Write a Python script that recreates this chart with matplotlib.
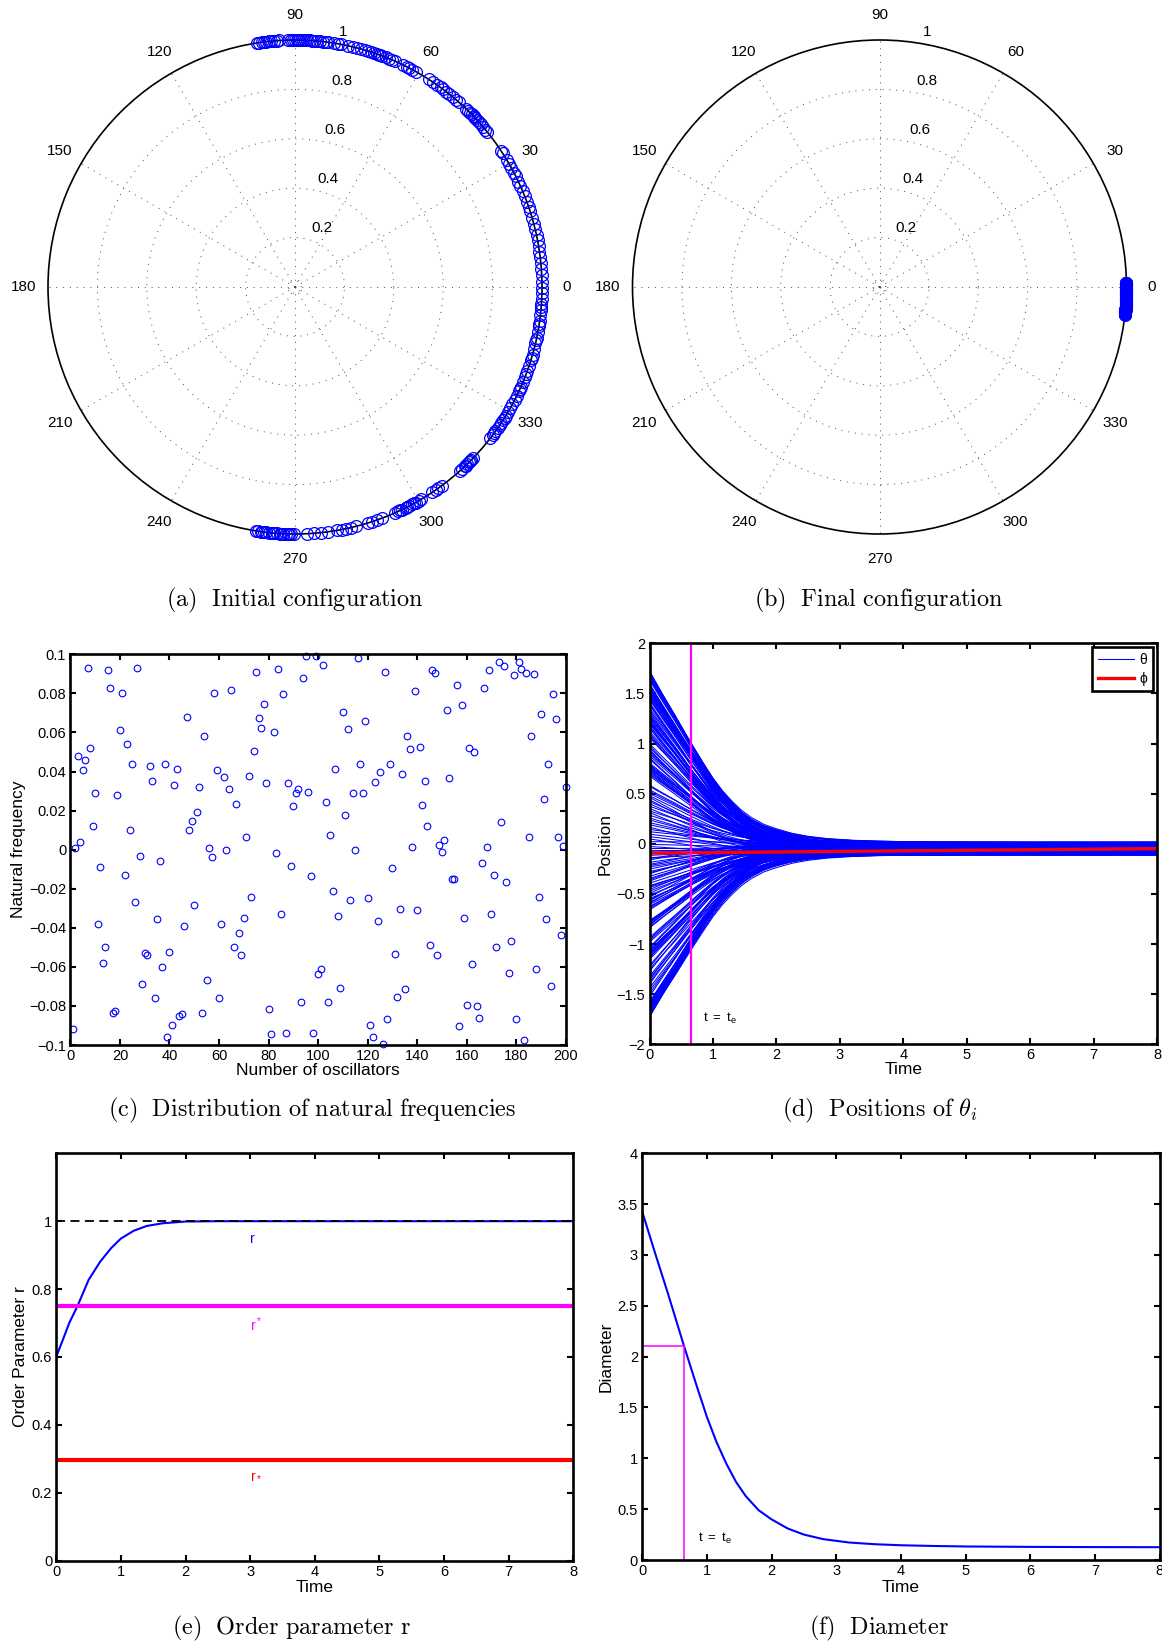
import numpy as np
import matplotlib
matplotlib.use('Agg')
import matplotlib.pyplot as plt
from matplotlib.transforms import offset_copy

plt.rcParams['font.family'] = ['Liberation Sans', 'DejaVu Sans']
plt.rcParams['mathtext.fontset'] = 'cm'

# initial phases (degrees)
theta0_deg = [
    98.8, 98.3, 97.7, 97.2, 96.8, 96.1, 95.5, 94.9, 94.2, 93.6,
    91.6, 91.0, 90.5, 90.1, 89.6, 89.1, 88.7, 88.2, 87.7, 87.2,
    86.6, 86.0, 85.5, 84.9, 84.3, 83.4, 82.9, 82.4, 80.8, 79.9,
    79.3, 77.6, 76.4, 75.5, 74.4, 73.6, 72.9, 72.1, 71.4, 70.6,
    69.8, 69.3, 68.5, 67.6, 66.8, 66.0, 64.2, 63.1, 62.4, 61.6,
    60.7, 57.2, 56.1, 55.0, 53.9, 53.2, 52.3, 51.4, 50.3, 49.2,
    48.4, 46.2, 45.5, 44.9, 44.3, 43.7, 43.1, 42.5, 41.9, 41.2,
    40.4, 39.6, 38.8, 33.5, 32.8, 30.9, 30.0, 28.8, 27.5, 26.6,
    25.2, 24.1, 22.9, 21.5, 20.2, 18.8, 17.9, 16.3, 14.8, 13.6,
    12.1, 10.9, 9.5, 8.2, 6.9, 5.5, 4.1, 2.8, 1.2, 89.4,
    70.2, 43.4, -0.3, -1.5, -2.7, -3.9, -5.3, -6.6, -7.9, -9.1,
    -10.6, -11.8, -13.2, -14.5, -15.9, -17.1, -18.6, -19.8, -21.3, -22.5,
    -23.9, -25.0, -26.2, -27.1, -28.4, -29.3, -30.5, -31.4, -32.6, -33.5,
    -34.7, -35.8, -36.9, -37.8, -43.8, -44.5, -45.2, -45.9, -46.6, -47.4,
    -48.1, -53.6, -54.5, -55.3, -56.2, -59.2, -60.0, -60.8, -61.7, -62.5,
    -63.4, -64.3, -65.3, -66.2, -69.5, -70.6, -71.8, -72.9, -75.8, -76.9,
    -78.0, -79.1, -80.2, -82.4, -84.0, -85.7, -87.3, -90.3, -90.9, -91.6,
    -92.2, -92.9, -93.5, -94.1, -94.8, -95.4, -96.0, -96.7, -97.3, -97.9,
    -98.5, -99.1, -4.6, -8.5, -12.4, -16.6, -20.6, -24.4, -31.9, -34.1,
    -36.3, -61.2, -63.0, -64.8, -91.3, -93.2, -95.1, -97.6, -44.9, -46.3,
]

# natural frequencies, panel (c)
omega = [
    -0.092, 0.001, 0.048, 0.004, 0.041, 0.046, 0.093, 0.052, 0.012, 0.029,
    -0.038, -0.009, -0.058, -0.050, 0.092, 0.083, -0.0836, -0.0826, 0.028, 0.061,
    0.080, -0.013, 0.054, 0.010, 0.044, -0.027, 0.093, -0.003, -0.069, -0.053,
    -0.054, 0.043, 0.035, -0.076, -0.0355, -0.006, -0.060, 0.044, -0.096, -0.0526,
    -0.090, 0.033, 0.0415, -0.085, -0.084, -0.039, 0.068, 0.010, 0.0147, -0.0285,
    0.0195, 0.032, -0.0836, 0.058, -0.0666, 0.001, -0.004, 0.080, 0.0406, -0.076,
    -0.038, 0.037, 0.000, 0.031, 0.0817, -0.050, 0.0234, -0.0425, -0.0538, -0.035,
    0.0067, 0.0377, -0.024, 0.0505, 0.091, 0.0676, 0.0625, 0.0747, 0.034, -0.0817,
    -0.0945, 0.060, -0.0015, 0.0925, -0.033, 0.0797, -0.0937, 0.034, -0.0085, 0.0225,
    0.029, 0.031, -0.078, 0.088, 0.099, 0.0297, -0.0137, -0.0937, 0.099, -0.0638,
    -0.061, 0.0947, 0.0242, -0.078, 0.0075, -0.0213, 0.0413, -0.0338, -0.0708, 0.0705,
    0.0177, 0.0616, -0.026, 0.0288, 0.000, 0.098, 0.0437, 0.029, 0.066, -0.0247,
    -0.090, -0.096, 0.0348, -0.0363, 0.040, -0.0997, 0.091, -0.0865, 0.0437, -0.0094,
    -0.0536, -0.0756, -0.0305, 0.0389, -0.0715, 0.058, 0.0514, 0.0014, 0.0813, -0.031,
    0.0527, 0.0227, 0.0353, 0.012, -0.0486, 0.092, 0.0906, -0.0538, 0.0022, -0.0014,
    0.005, 0.0717, 0.0367, -0.0152, -0.015, 0.0841, -0.0904, 0.0742, -0.0348, -0.0793,
    0.0522, -0.0584, 0.050, -0.080, -0.0863, -0.0068, 0.0828, 0.0015, 0.0918, -0.0331,
    -0.0131, -0.050, 0.0959, 0.014, 0.0939, -0.0164, -0.0633, -0.047, 0.0896, -0.0867,
    0.0962, 0.0925, -0.0974, 0.0903, 0.0065, 0.058, 0.090, -0.061, -0.0242, 0.0696,
    0.026, -0.0353, 0.0439, -0.0696, 0.0797, 0.067, 0.0065, -0.0439, 0.0021, 0.032,
]
osc_idx = np.arange(1, len(omega) + 1)

# diameter curve, panel (f)
t_D = [0, 0.2, 0.4, 0.65, 0.85, 1.0, 1.15, 1.3, 1.45, 1.6, 1.8, 2.0,
       2.25, 2.5, 2.8, 3.2, 3.6, 4.0, 4.5, 5.0, 6.0, 7.0, 8.0]
diam = [3.43, 3.02, 2.62, 2.10, 1.70, 1.41, 1.16, 0.95, 0.77, 0.63, 0.49, 0.40,
        0.31, 0.25, 0.205, 0.172, 0.155, 0.145, 0.138, 0.133, 0.129, 0.127, 0.126]

# order parameter, panel (e)
t_r = [0, 0.1, 0.2, 0.33, 0.5, 0.68, 0.85, 1.0, 1.2, 1.4, 1.65, 2.0, 2.5, 3.0, 8.0]
r_vals = [0.601, 0.65, 0.70, 0.751, 0.827, 0.881, 0.921, 0.949, 0.972, 0.986,
          0.994, 0.999, 1.0, 1.0, 1.0]
r_upper = 0.75
r_lower = 0.297

# average phase, panel (d)
t_phi = [0, 8]
phi_vals = [-0.093, -0.048]
t_e = 0.65
D_te = 2.1
offset_gain = 0.65   # final spread of phases around phi, per unit of omega

spoke_deg = [0, 30, 60, 90, 120, 150, 180, 210, 240, 270, 300, 330]
ring_r = [0.025, 0.2, 0.4, 0.6, 0.8]
ring_labels = [0.2, 0.4, 0.6, 0.8, 1.0]

W, H = 1162, 1646
fig = plt.figure(figsize=(W / 100, H / 100), dpi=100)


def box(l, t, r, b):
    return [l / W, 1 - b / H, (r - l) / W, (b - t) / H]


def polar_panel(rect, theta_rad):
    ax = fig.add_axes(rect, projection='polar')
    ax.set_ylim(0, 1)
    ax.set_xticks(np.deg2rad(spoke_deg))
    ax.set_xticklabels([])
    ax.set_yticks(ring_r)
    ax.set_yticklabels([])
    ax.grid(True, color='0.3', lw=0.7, ls=(0, (1, 6)))
    ax.spines['polar'].set_linewidth(1.2)
    ax.tick_params(length=0)
    for a in spoke_deg:
        ax.text(np.deg2rad(a), 1.1, str(a), ha='center', va='center', fontsize=11)
    tr = offset_copy(ax.transData, fig=fig, x=9, y=3, units='dots')
    for r in ring_labels:
        ax.text(np.deg2rad(82), r, f'{r:g}', transform=tr, ha='left', va='bottom', fontsize=11)
    ax.plot(theta_rad, np.ones(len(theta_rad)), 'o', mfc='none', mec='blue',
            ms=8.5, mew=0.9, clip_on=False, zorder=5)
    return ax


def style(ax):
    for s in ax.spines.values():
        s.set_linewidth(1.9)
    ax.tick_params(direction='in', top=True, right=True, length=4, width=1.5,
                   labelsize=10.5, pad=3)


def fmt(v):
    s = f'{v:g}'
    return s.replace('-', '\u2212')


theta0 = np.deg2rad(theta0_deg)
omega_a = np.array(omega)
theta_end = phi_vals[-1] + offset_gain * omega_a

# (a) and (b)
polar_panel(box(48, 40, 542, 534), theta0)
polar_panel(box(632.5, 40, 1126.5, 534), theta_end)

# (c)
ax = fig.add_axes(box(70.4, 654.3, 565.8, 1045))
ax.plot(osc_idx, omega, 'o', mfc='none', mec='blue', ms=4.8, mew=0.8, clip_on=False)
ax.set_xlim(0, 200)
ax.set_ylim(-0.1, 0.1)
xt = [0, 20, 40, 60, 80, 100, 120, 140, 160, 180, 200]
yt = [-0.1, -0.08, -0.06, -0.04, -0.02, 0, 0.02, 0.04, 0.06, 0.08, 0.1]
ax.set_xticks(xt, [fmt(v) for v in xt])
ax.set_yticks(yt, [fmt(v) for v in yt])
ax.set_xlabel('Number of oscillators', fontsize=12.5, labelpad=0)
ax.set_ylabel('Natural frequency', fontsize=12.5, labelpad=2)
style(ax)

# (d)
ax = fig.add_axes(box(649.5, 643.3, 1157, 1044.3))
D = np.array(diam)
s = (D - D[-1]) / (D[0] - D[-1])
traj = theta0[:, None] * s[None, :] + theta_end[:, None] * (1 - s[None, :])
lines = ax.plot(t_D, traj.T, color='blue', lw=0.75)
lines[0].set_label('\u03b8')
ax.plot(t_phi, phi_vals, color='red', lw=2.4, label='\u03d5')
ax.axvline(t_e, color='#ff00ff', lw=1.6)
ax.text(0.85, -1.74, r'$\mathregular{t\ =\ t_e}$', fontsize=9.5, ha='left', va='center')
ax.set_xlim(0, 8)
ax.set_ylim(-2, 2)
xt8 = [0, 1, 2, 3, 4, 5, 6, 7, 8]
ytd = [-2, -1.5, -1, -0.5, 0, 0.5, 1, 1.5, 2]
ax.set_xticks(xt8, [fmt(v) for v in xt8])
ax.set_yticks(ytd, [fmt(v) for v in ytd])
ax.set_xlabel('Time', fontsize=12.5, labelpad=0)
ax.set_ylabel('Position', fontsize=12.5, labelpad=3)
leg = ax.legend(loc='upper right', fontsize=10, fancybox=False, edgecolor='black',
                framealpha=1, handlelength=2.6, borderaxespad=0.3, borderpad=0.4,
                labelspacing=0.35, handletextpad=0.4)
leg.get_frame().set_linewidth(1.9)
style(ax)

# (e)
ax = fig.add_axes(box(56.3, 1153.3, 573.2, 1560.7))
ax.plot(t_r, r_vals, color='blue', lw=1.5)
ax.plot([0, 8], [1, 1], color='black', lw=1.3, dashes=(5, 3))
ax.plot([0, 8], [r_upper, r_upper], color='#ff00ff', lw=3)
ax.plot([0, 8], [r_lower, r_lower], color='red', lw=3)
ax.text(3.0, 0.948, 'r', color='blue', fontsize=10, ha='left', va='center')
ax.text(3.0, 0.694, r'$\mathregular{r^*}$', color='#ff00ff', fontsize=10, ha='left', va='center')
ax.text(3.0, 0.252, r'$\mathregular{r_*}$', color='red', fontsize=10, ha='left', va='center')
ax.set_xlim(0, 8)
ax.set_ylim(0, 1.2)
yte = [0, 0.2, 0.4, 0.6, 0.8, 1]
ax.set_xticks(xt8, [fmt(v) for v in xt8])
ax.set_yticks(yte, [fmt(v) for v in yte])
ax.set_xlabel('Time', fontsize=12.5, labelpad=1)
ax.set_ylabel('Order Parameter r', fontsize=12.5, labelpad=3)
style(ax)

# (f)
ax = fig.add_axes(box(642.1, 1153.3, 1159.7, 1560))
ax.plot(t_D, diam, color='blue', lw=1.5)
ax.plot([0, t_e, t_e], [D_te, D_te, 0], color='#ff00ff', lw=1.1)
ax.text(0.86, 0.21, r'$\mathregular{t\ =\ t_e}$', fontsize=9.5, ha='left', va='center')
ax.set_xlim(0, 8)
ax.set_ylim(0, 4)
ytf = [0, 0.5, 1, 1.5, 2, 2.5, 3, 3.5, 4]
ax.set_xticks(xt8, [fmt(v) for v in xt8])
ax.set_yticks(ytf, [fmt(v) for v in ytf])
ax.set_xlabel('Time', fontsize=12.5, labelpad=1)
ax.set_ylabel('Diameter', fontsize=12.5, labelpad=3)
style(ax)

captions = [
    (295, 600.4, r'$\mathrm{(a)\ \ Initial\ configuration}$'),
    (878.6, 600.4, r'$\mathrm{(b)\ \ Final\ configuration}$'),
    (311.8, 1110.6, r'$\mathrm{(c)\ \ Distribution\ of\ natural\ frequencies}$'),
    (879.7, 1110.6, r'$\mathrm{(d)\ \ Positions\ of\ }\theta_i$'),
    (291.8, 1628, r'$\mathrm{(e)\ \ Order\ parameter\ r}$'),
    (878.6, 1628, r'$\mathrm{(f)\ \ Diameter}$'),
]
for x, y, txt in captions:
    fig.text(x / W, 1 - y / H, txt, ha='center', va='center', fontsize=17.5)

fig.savefig('out.png', dpi=100)
